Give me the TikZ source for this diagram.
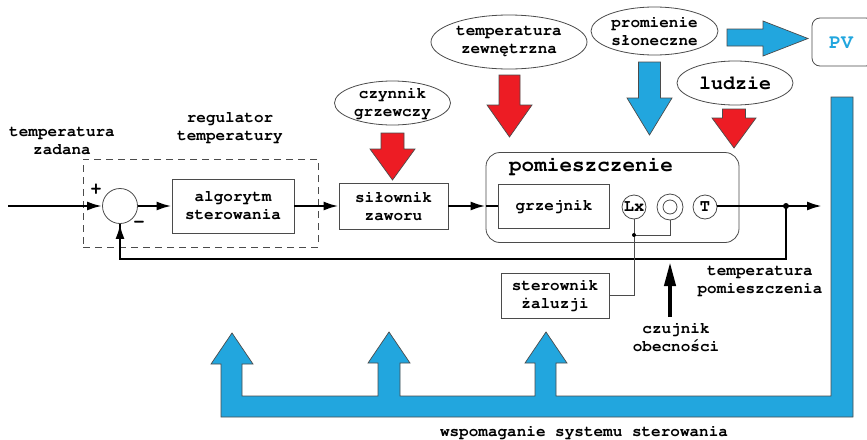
\documentclass[tikz,border=0pt]{standalone}
\usepackage[T1]{fontenc}
\usepackage{courier}
\usetikzlibrary{shapes.geometric,arrows.meta}
\definecolor{heatred}{RGB}{237,28,36}
\definecolor{skyblue}{RGB}{34,166,222}
\definecolor{edge}{RGB}{75,75,75}

% block arrow pointing down: fill, x, top, head base, tip, half shaft, half head
\newcommand\fatdown[7]{%
  \filldraw[fill=#1,draw=edge,line width=0.7pt,line join=miter]
    ({#2-#6},#3) -- ({#2+#6},#3) -- ({#2+#6},#4) -- ({#2+#7},#4)
    -- (#2,#5) -- ({#2-#7},#4) -- ({#2-#6},#4) -- cycle;}

\begin{document}
\begin{tikzpicture}[x=1pt,y=-1pt,
  every node/.style={font=\ttfamily\bfseries\fontsize{16}{18}\selectfont,align=center,inner sep=0pt},
  box/.style={draw=edge,line width=0.8pt,rectangle},
  oval/.style={draw=edge,line width=0.8pt,ellipse},
  sens/.style={draw=edge,line width=0.8pt,circle,minimum size=24pt,font=\ttfamily\bfseries\fontsize{17}{18}\selectfont},
  sig/.style={line width=2.4pt,black},
  thin/.style={line width=0.8pt,edge},
  tip/.style={-{Latex[length=15pt,width=9pt]}}]
\useasboundingbox (0,0) rectangle (867,439);

% ---- controller ----
\node[draw=edge,line width=0.8pt,dash pattern=on 7pt off 5pt,minimum width=235pt,minimum height=88pt] (reg) at (200.5,203) {};
\node (reglbl) at (230,128) {regulator\\temperatury};
\node (setlbl) at (62,141) {temperatura\\zadana};
\node[draw=edge,line width=0.8pt,circle,minimum size=35pt] (sum) at (120,206) {};
\node[font=\ttfamily\bfseries\fontsize{19}{20}\selectfont] (plus) at (96,190) {+};
\node[font=\ttfamily\bfseries\fontsize{19}{20}\selectfont] (minus) at (139,225) {-};
\node[box,minimum width=122pt,minimum height=54pt] (alg) at (233,206) {algorytm\\sterowania};
\node[box,minimum width=109pt,minimum height=46pt] (act) at (393.5,206) {si\l{}ownik\\zaworu};

% ---- room ----
\node[draw=edge,line width=0.8pt,rounded corners=14pt,minimum width=253pt,minimum height=90pt] (room) at (612.5,197.5) {};
\node[font=\ttfamily\bfseries\fontsize{21}{24}\selectfont] (roomlbl) at (591,166) {pomieszczenie};
\node[box,minimum width=111pt,minimum height=44pt] (heat) at (554,206) {grzejnik};
\node[sens] (lx) at (634,207) {Lx};
\node[sens,minimum size=26pt] (pres) at (670,207) {};
\draw[thin] (pres) circle (7);
\node[sens] (tsens) at (705,207) {T};
\node[box,minimum width=108pt,minimum height=45pt] (blind) at (555,295.5) {sterownik\\\.{z}aluzji};
\coordinate (tap) at (786,206);
\coordinate (out) at (822,206);
\coordinate (fb) at (0,259);
\coordinate (jn) at (634,235);

% ---- signal lines ----
\coordinate (in) at (8,206);
\draw[sig,tip] (in) -- (sum.west);
\draw[sig,tip] (sum.east) -- (alg.west);
\draw[sig,tip] (alg.east) -- (act.west);
\draw[sig,tip] (act.east) -- (act.east -| room.west);
\draw[sig] (act.east -| room.west) -- (heat.west);
\draw[sig,tip] (tsens.east |- tap) -- (out);
\draw[sig] (tap) -- (tap |- fb) -- (sum |- fb) -- (sum.south);
\draw[sig,tip] (sum |- fb) -- (sum.south);
\fill (tap) circle (3);

\draw[thin] (lx.south) -- (lx |- blind.east) -- (blind.east);
\draw[thin] (pres.south) -- (pres |- jn) -- (jn);
\fill (jn) circle (2);

\coordinate (prbot) at (670,317);
\coordinate (prtop) at (670,262);
\draw[line width=4pt,-{Triangle[length=24pt,width=11pt]}] (prbot) -- (prtop);
\node (prlbl) at (676,337) {czujnik\\obecno\'sci};
\node (rtlbl) at (760,281) {temperatura\\pomieszczenia};

% ---- disturbances ----
\node[oval,minimum width=116pt,minimum height=44pt] (heatmed) at (392.5,103) {};
\node at (heatmed) {czynnik\\grzewczy};
\node[oval,minimum width=156pt,minimum height=54pt] (outtemp) at (509,42) {};
\node at (outtemp) {temperatura\\zewn\k{e}trzna};
\node[oval,minimum width=127pt,minimum height=48pt] (sun) at (654.5,31) {};
\node at (sun) {promienie\\s\l{}oneczne};
\node[oval,minimum width=116pt,minimum height=44pt] (people) at (735,83) {};
\node[font=\ttfamily\bfseries\fontsize{20}{22}\selectfont] at (people) {ludzie};

\fatdown{heatred}{392.5}{133}{149}{180}{11.5}{22.5}
\fatdown{heatred}{509.5}{75}{105}{137}{10.5}{22.5}
\fatdown{heatred}{734}{109}{118}{148}{11.5}{22}
\fatdown{skyblue}{649.5}{62}{98}{135}{11}{22.5}

% ---- photovoltaics ----
\node[draw=edge,line width=0.8pt,rounded corners=8pt,minimum width=62pt,minimum height=48pt] (pv) at (843,42) {};
\node[text=skyblue,font=\ttfamily\bfseries\fontsize{20}{22}\selectfont] at (841,43) {PV};
\filldraw[fill=skyblue,draw=edge,line width=0.7pt,line join=miter]
  (727,29) -- (763,29) -- (763,21) -- (808,38.5) -- (763,56) -- (763,46) -- (727,46) -- cycle;

% support bus back to the control chain
\filldraw[fill=skyblue,draw=edge,line width=0.7pt,line join=miter]
  (232,333) -- (253,364) -- (242,364) -- (242,396) -- (378,396) -- (378,363)
  -- (368,363) -- (389,332) -- (410,363) -- (400,363) -- (400,396)
  -- (535,396) -- (535,363) -- (525,363) -- (546,332) -- (567,363)
  -- (556,363) -- (556,396) -- (831,396) -- (831,97) -- (853,97)
  -- (853,417) -- (221,417) -- (221,364) -- (211,364) -- cycle;
\node (buslbl) at (584,432) {wspomaganie systemu sterowania};
\end{tikzpicture}
\end{document}
